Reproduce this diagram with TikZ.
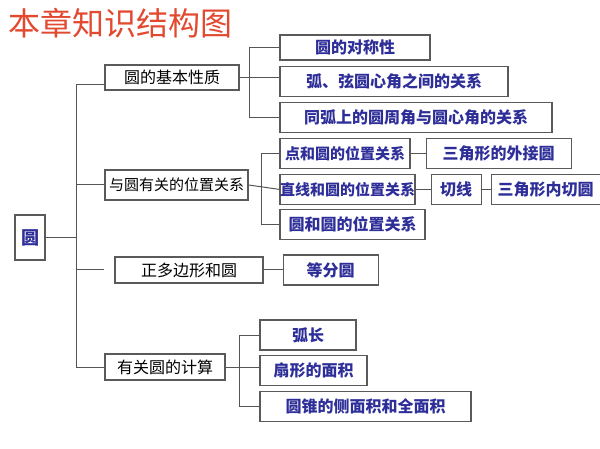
\documentclass[tikz,border=0pt]{standalone}
\usepackage{fontspec}
\usepackage{xcolor}
\usepackage{tikz}
\usetikzlibrary{positioning,calc}
\newfontfamily\cjk{Noto Sans CJK SC}
\definecolor{titlered}{HTML}{E2492F}
\definecolor{darkblue}{HTML}{2E2E99}
\definecolor{boxgray}{HTML}{5A5A5A}
\definecolor{linegray}{HTML}{555555}

\begin{document}
\begin{tikzpicture}[
    x=1pt, y=-1pt,
    box/.style={rectangle, draw=boxgray, line width=1.1pt, inner sep=0pt, align=center, minimum height=30pt},
    topbox/.style={box, text=black, font=\cjk\fontsize{16pt}{18pt}\selectfont},
    subbox/.style={box, text=darkblue, font=\cjk\bfseries\fontsize{16pt}{18pt}\selectfont},
    conn/.style={draw=linegray, line width=1pt}
]
  \useasboundingbox (0,0) rectangle (600,449);

  % Title
  \node[anchor=west, inner sep=0pt, text=titlered, font=\cjk\fontsize{32pt}{34pt}\selectfont] (title) at (8,23) {本章知识结构图};

  % Root and first level
  \node[box, text=darkblue, font=\cjk\bfseries\fontsize{18pt}{20pt}\selectfont, minimum width=30pt, minimum height=45pt] (root) at (30,237.5) {圆};
  \node[topbox, minimum width=134pt, minimum height=25pt] (basic) at (172,77.5) {圆的基本性质};
  \node[topbox, minimum width=143pt, font=\cjk\fontsize{15pt}{17pt}\selectfont] (pos) at (176.5,185) {与圆有关的位置关系};
  \node[topbox, minimum width=148pt, minimum height=26pt] (poly) at (189,270) {正多边形和圆};
  \node[topbox, minimum width=120pt, minimum height=26pt] (calc) at (165,367) {有关圆的计算};

  % Basic properties
  \node[subbox, minimum width=150pt, minimum height=25pt] (sym) at (355,47.5) {圆的对称性};
  \node[subbox, minimum width=228pt, below=5pt of sym.south west, anchor=north west] (arc) {弧、弦圆心角之间的关系};
  \node[subbox, minimum width=272pt, below=5pt of arc.south west, anchor=north west] (same) {同弧上的圆周角与圆心角的关系};

  % Positions
  \node[subbox, minimum width=130pt, font=\cjk\bfseries\fontsize{15pt}{17pt}\selectfont, below=5pt of same.south west, anchor=north west] (point) {点和圆的位置关系};
  \node[subbox, minimum width=135pt, font=\cjk\bfseries\fontsize{15pt}{17pt}\selectfont, below=5pt of point.south west, anchor=north west] (line) {直线和圆的位置关系};
  \node[subbox, minimum width=145pt, below=4pt of line.south west, anchor=north west] (cc) {圆和圆的位置关系};
  \node[subbox, minimum width=145pt, right=15pt of point] (circum) {三角形的外接圆};
  \node[subbox, minimum width=50pt, right=15pt of line] (tangent) {切线};
  \node[subbox, minimum width=109pt, right=9pt of tangent] (incirc) {三角形内切圆};

  % Polygons
  \node[subbox, minimum width=95pt, right=19pt of poly] (equal) {等分圆};

  % Calculations
  \node[subbox, minimum width=96pt] (arclen) at (308,335) {弧长};
  \node[subbox, minimum width=107pt, below=4pt of arclen.south west, anchor=north west] (sector) {扇形的面积};
  \node[subbox, minimum width=211pt, below=5pt of sector.south west, anchor=north west] (cone) {圆锥的侧面积和全面积};

  % Trunk
  \coordinate (tk) at (76,0);
  \draw[conn] ([yshift=-7pt]basic.west) -- ([yshift=-7pt]basic.west -| tk) |- (calc.west);
  \draw[conn] (root.east) -- (root.east -| tk);
  \draw[conn] (pos.west) -- (pos.west -| tk);
  \draw[conn, shorten <=10pt] (poly.west) -- (poly.west -| tk);

  % Brackets
  \draw[conn] (sym.west) -- ++(-30pt,0) |- (same.west);
  \draw[conn] (basic.east) -- (basic.east -| arc.west);
  \draw[conn] (point.west) -- ++(-18pt,0) |- (cc.west);
  \draw[conn] (pos.east) -- (line.west);
  \draw[conn] (point) -- (circum);
  \draw[conn] (line) -- (tangent);
  \draw[conn] (tangent) -- (incirc);
  \draw[conn] (poly) -- (equal);
  \draw[conn] (arclen.west) -- ++(-20pt,0) |- (cone.west);
  \draw[conn] (calc.east) -- (calc.east -| sector.west);
\end{tikzpicture}
\end{document}
